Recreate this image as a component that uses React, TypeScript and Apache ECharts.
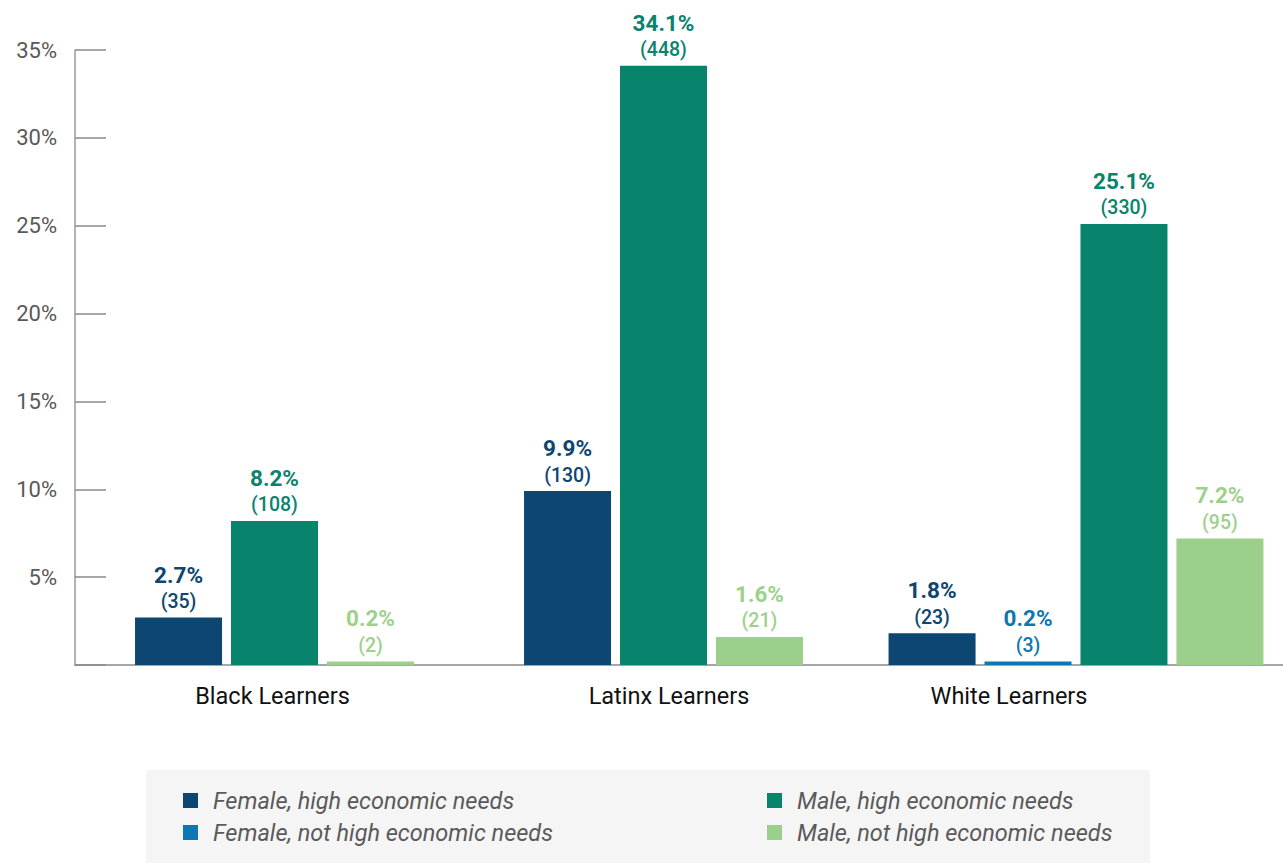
import React, { useEffect, useRef } from "react";
import * as echarts from "echarts";

const categories = ["Black Learners", "Latinx Learners", "White Learners"];
const seriesNames = [
  "Female, high economic needs",
  "Female, not high economic needs",
  "Male, high economic needs",
  "Male, not high economic needs",
];
const femaleHigh = [2.7, 9.9, 1.8];
const femaleHighN = [35, 130, 23];
const femaleNot = [null, null, 0.2];
const femaleNotN = [null, null, 3];
const maleHigh = [8.2, 34.1, 25.1];
const maleHighN = [108, 448, 330];
const maleNot = [0.2, 1.6, 7.2];
const maleNotN = [2, 21, 95];
const yTicks = [0, 5, 10, 15, 20, 25, 30, 35];

const colors = ["#0d4670", "#0e76b3", "#08836c", "#9dcf8c"];
const labelColors = ["#0d4670", "#0e76b3", "#08836c", "#9dd18b"];
const values = [femaleHigh, femaleNot, maleHigh, maleNot];
const counts = [femaleHighN, femaleNotN, maleHighN, maleNotN];

// layout of the three group panels (pixels)
const panels = [
  { left: 75, width: 399, labelPad: [0, 4, 0, 0] },
  { left: 448, width: 431, labelPad: [0, 0, 0, 11] },
  { left: 869, width: 414, labelPad: [0, 134, 0, 0] },
];
const FONT = "Roboto, 'Noto Sans', sans-serif";

export default function App() {
  const ref = useRef<HTMLDivElement>(null);
  useEffect(() => {
    if (!ref.current) return;
    const chart = echarts.init(ref.current, null, { renderer: "svg" });
    const grids = panels.map((p) => ({ left: p.left, width: p.width, top: 50, bottom: 198 }));
    const xAxes = panels.map((p, i) => ({
      type: "category",
      gridIndex: i,
      data: [categories[i]],
      axisLine: { show: true, lineStyle: { color: "#a6a6a6", width: 2 } },
      axisTick: { show: false },
      axisLabel: {
        color: "#111",
        fontSize: 23.5,
        fontFamily: FONT,
        margin: 19,
        padding: p.labelPad,
      },
    }));
    const yAxes = panels.map((p, i) => ({
      type: "value",
      gridIndex: i,
      min: yTicks[0],
      max: yTicks[yTicks.length - 1],
      interval: yTicks[1] - yTicks[0],
      show: i === 0,
      splitLine: { show: false },
      axisLine: { show: i === 0, lineStyle: { color: "#9a9a9a", width: 1.5 } },
      axisTick: {
        show: i === 0,
        inside: true,
        length: 31,
        lineStyle: { color: "#8a8a8a", width: 1.5 },
      },
      axisLabel: {
        show: i === 0,
        color: "#595959",
        fontSize: 22,
        fontFamily: FONT,
        margin: 18,
        formatter: (v: number) => (v === 0 ? "" : v + "%"),
      },
    }));
    const series: any[] = [];
    categories.forEach((cat, g) => {
      seriesNames.forEach((name, s) => {
        const v = values[s][g];
        if (v === null || v === undefined) return;
        const n = counts[s][g];
        series.push({
          type: "bar",
          name,
          xAxisIndex: g,
          yAxisIndex: g,
          data: [v],
          barWidth: 87,
          barGap: "10.3%",
          itemStyle: { color: colors[s] },
          label: {
            show: true,
            position: "top",
            distance: 4,
            formatter: () => `{p|${(v as number).toFixed(1)}%}\n{n|(${n})}`,
            rich: {
              p: {
                fontSize: 22.5,
                fontWeight: "bold",
                color: labelColors[s],
                lineHeight: 30,
                fontFamily: FONT,
              },
              n: {
                fontSize: 19.5,
                fontWeight: 500,
                color: labelColors[s],
                lineHeight: 24,
                fontFamily: FONT,
              },
            },
          },
        });
      });
    });
    const legendCommon = {
      orient: "vertical",
      top: 789,
      padding: 0,
      itemWidth: 15,
      itemHeight: 15,
      itemGap: 9,
      icon: "rect",
      selectedMode: false,
      textStyle: {
        fontSize: 23.5,
        fontStyle: "italic",
        color: "#5a5a5a",
        fontFamily: FONT,
        lineHeight: 23,
        padding: [0, 0, 0, 10],
      },
    };
    chart.setOption({
      animation: false,
      backgroundColor: "#ffffff",
      textStyle: { fontFamily: FONT },
      graphic: [
        {
          type: "rect",
          left: 146,
          top: 770,
          z: 0,
          shape: { width: 1004, height: 93 },
          style: { fill: "#f5f5f5" },
        },
      ],
      legend: [
        { ...legendCommon, left: 183, data: [seriesNames[0], seriesNames[1]] },
        { ...legendCommon, left: 767, data: [seriesNames[2], seriesNames[3]] },
      ],
      grid: grids,
      xAxis: xAxes,
      yAxis: yAxes,
      series,
    });
    return () => chart.dispose();
  }, []);
  return (
    <div
      ref={ref}
      style={{ position: "absolute", left: 0, top: 0, width: 1283, height: 863 }}
    />
  );
}
